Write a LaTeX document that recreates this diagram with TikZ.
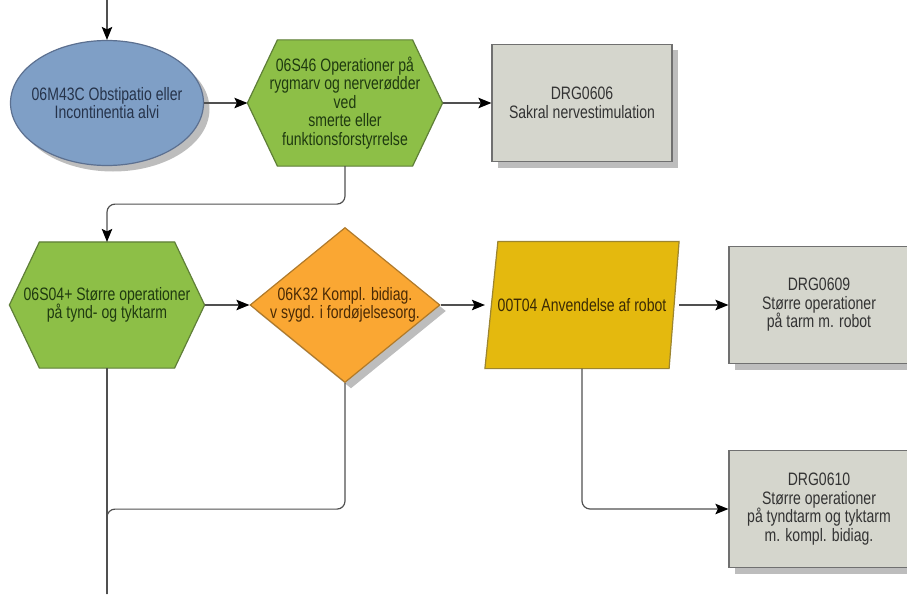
\documentclass[tikz,border=0pt]{standalone}
\usepackage{fontspec}
\setmainfont{Liberation Sans}[FakeStretch=0.78]
\usepackage{tikz}
\usetikzlibrary{shapes,shapes.geometric,arrows.meta,shadows,backgrounds}
\definecolor{ellfill}{HTML}{7F9FC6}
\definecolor{ellline}{HTML}{5C7090}
\definecolor{elltext}{HTML}{26334A}
\definecolor{hexfill}{HTML}{8DBF47}
\definecolor{hexline}{HTML}{5F7F38}
\definecolor{hextext}{HTML}{1F3A10}
\definecolor{diafill}{HTML}{FAA733}
\definecolor{dialine}{HTML}{B07A2A}
\definecolor{diatext}{HTML}{4A2A05}
\definecolor{parafill}{HTML}{E4B90E}
\definecolor{paraline}{HTML}{9C8530}
\definecolor{paratext}{HTML}{3A2A05}
\definecolor{boxfill}{HTML}{D5D6CD}
\definecolor{boxline}{HTML}{707070}
\definecolor{boxtext}{HTML}{333333}
\definecolor{shade}{HTML}{BDBDBD}
\definecolor{wire}{HTML}{505050}
\tikzstyle{base} = [font=\fontsize{18}{18.5}\selectfont, align=center, inner sep=0pt, line width=1.2pt]
\tikzstyle{shadowed} = [drop shadow={shadow xshift=6pt, shadow yshift=-6pt, fill=shade, opacity=1}]
\tikzstyle{diag} = [base, shadowed, ellipse, inner xsep=-12pt, draw=ellline, fill=ellfill, text=elltext, minimum width=193pt, minimum height=125pt]
\tikzstyle{oper} = [base, rectangle, text=hextext, minimum width=194pt, minimum height=125pt]
\tikzstyle{hexface} = [draw=hexline, fill=hexfill, line width=1.2pt]
\tikzstyle{cond} = [base, shadowed, diamond, aspect=1.226, inner xsep=-8pt, draw=dialine, fill=diafill, text=diatext, minimum width=190pt, minimum height=155pt]
\tikzstyle{proc} = [base, rectangle, text=paratext, minimum width=193pt, minimum height=126pt]
\tikzstyle{paraface} = [draw=paraline, fill=parafill, line width=1.2pt]
\tikzstyle{castshadow} = [fill=shade, xshift=6pt, yshift=-6pt]
\tikzstyle{drg} = [base, shadowed, rectangle, draw=boxline, fill=boxfill, text=boxtext, minimum width=180pt, minimum height=117pt]
\tikzstyle{link} = [draw=wire, line width=1.2pt, -{Stealth[length=13pt, width=10.5pt, inset=2.5pt, color=black]}]
\tikzstyle{plain} = [draw=wire, line width=1.2pt]

\begin{document}
\begin{tikzpicture}[x=1pt, y=-1pt]
		\useasboundingbox (0,0) rectangle (907,594);
		\coordinate (in0) at (107,0);
		\coordinate (out0) at (107,594);

		\node [diag] (ell) at (107,103) {06M43C Obstipatio eller\\Incontinentia  alvi};
		\node [oper, right of = ell, node distance=238pt] (hexA) {06S46 Operationer på\\rygmarv og nerverødder\\ved\\smerte eller\\funktionsforstyrrelse};
		\node [drg, right of = hexA, node distance=237pt] (drgA) {DRG0606\\Sakral  nervestimulation};

		\node [oper, below of = ell, node distance=202pt] (hexB) {06S04+ Større operationer\\på tynd- og tyktarm};
		\node [cond, right of = hexB, node distance=238pt] (dia) {06K32 Kompl. bidiag.\\v sygd. i  fordøjelsesorg.};
		\node [proc, right of = dia, node distance=237pt] (para) {00T04 Anvendelse af  robot};
		\node [drg, right of = para, node distance=237pt] (drgB) {DRG0609\\Større operationer\\på tarm m.  robot};
		\node [drg, below of = drgB, node distance=204pt] (drgC) {DRG0610\\Større operationer\\på tyndtarm og tyktarm\\m. kompl.  bidiag.};

		% hexagons and parallelogram behind their texts
		\begin{pgfonlayer}{background}
			\path [castshadow] (hexA.west) -- ([xshift=30pt]hexA.north west) -- ([xshift=-30pt]hexA.north east) -- (hexA.east) -- ([xshift=-30pt]hexA.south east) -- ([xshift=30pt]hexA.south west) -- cycle;
			\path [hexface] (hexA.west) -- ([xshift=30pt]hexA.north west) -- ([xshift=-30pt]hexA.north east) -- (hexA.east) -- ([xshift=-30pt]hexA.south east) -- ([xshift=30pt]hexA.south west) -- cycle;
			\path [castshadow] (hexB.west) -- ([xshift=30pt]hexB.north west) -- ([xshift=-30pt]hexB.north east) -- (hexB.east) -- ([xshift=-30pt]hexB.south east) -- ([xshift=30pt]hexB.south west) -- cycle;
			\path [hexface] (hexB.west) -- ([xshift=30pt]hexB.north west) -- ([xshift=-30pt]hexB.north east) -- (hexB.east) -- ([xshift=-30pt]hexB.south east) -- ([xshift=30pt]hexB.south west) -- cycle;
			\path [castshadow] (para.south west) -- ([xshift=13pt]para.north west) -- (para.north east) -- ([xshift=-10pt]para.south east) -- cycle;
			\path [paraface] (para.south west) -- ([xshift=13pt]para.north west) -- (para.north east) -- ([xshift=-10pt]para.south east) -- cycle;
		\end{pgfonlayer}

		\draw [link] (in0) -- (ell.north);
		\draw [link] (ell) -- (hexA);
		\draw [link] (hexA) -- (drgA);
		\draw [link, rounded corners=8pt] (hexA.south) -- ++(0,38) -| (hexB.north);

		\draw [link] (hexB) -- (dia);
		\draw [link] (dia) -- (para);
		\draw [link] (para) -- (drgB);
		\draw [link, rounded corners=8pt] (para.south) |- (drgC.west);

		\draw [plain] (hexB.south) -- (out0);
		\draw [plain, rounded corners=8pt] (dia.south) -- ++(0,126) -| (out0);
\end{tikzpicture}
\end{document}
